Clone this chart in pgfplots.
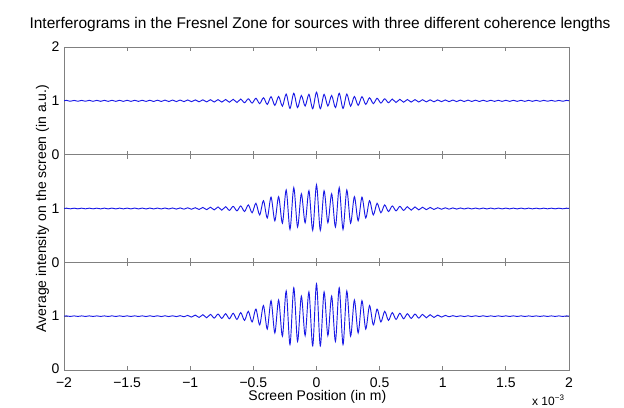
\documentclass[border=0pt]{standalone}
\usepackage{fontspec}
\setmainfont{Liberation Sans}
\usepackage{pgfplots}
\usepackage{pgfplotstable}
\pgfplotsset{compat=1.18}
\definecolor{AxGray}{HTML}{808080}
\definecolor{LineBlue}{HTML}{1A1AE6}

% x in units of 1e-3 m; a = top, b = middle, c = bottom panel
\pgfplotstableread{
x a b c
-2 1 1 1
-1.98 1.008 1.006 1.005
-1.95 0.992 0.994 0.995
-1.92 1.008 1.006 1.005
-1.89 0.992 0.994 0.995
-1.86 1.008 1.006 1.005
-1.83 0.992 0.994 0.995
-1.80 1.009 1.006 1.005
-1.77 0.991 0.994 0.995
-1.74 1.009 1.006 1.005
-1.71 0.991 0.993 0.995
-1.68 1.009 1.007 1.005
-1.65 0.990 0.993 0.994
-1.62 1.010 1.007 1.006
-1.59 0.990 0.993 0.994
-1.56 1.010 1.007 1.006
-1.53 0.990 0.993 0.994
-1.50 1.010 1.007 1.006
-1.47 0.990 0.993 0.994
-1.44 1.010 1.008 1.006
-1.41 0.990 0.992 0.994
-1.38 1.011 1.008 1.006
-1.35 0.989 0.992 0.993
-1.32 1.011 1.008 1.007
-1.29 0.988 0.992 0.993
-1.26 1.012 1.008 1.007
-1.23 0.988 0.992 0.993
-1.20 1.013 1.009 1.007
-1.17 0.987 0.991 0.993
-1.14 1.014 1.010 1.007
-1.11 0.986 0.989 0.992
-1.08 1.015 1.011 1.009
-1.05 0.985 0.988 0.989
-1.02 1.016 1.013 1.014
-0.99 0.984 0.986 0.983
-0.96 1.017 1.015 1.020
-0.93 0.982 0.982 0.976
-0.90 1.019 1.020 1.027
-0.87 0.980 0.978 0.970
-0.84 1.021 1.024 1.033
-0.81 0.978 0.974 0.964
-0.78 1.023 1.029 1.039
-0.75 0.976 0.969 0.958
-0.72 1.025 1.033 1.045
-0.69 0.974 0.965 0.952
-0.66 1.028 1.040 1.054
-0.63 0.970 0.956 0.940
-0.60 1.032 1.048 1.066
-0.57 0.965 0.943 0.922
-0.54 1.038 1.066 1.090
-0.51 0.958 0.921 0.892
-0.48 1.047 1.097 1.132
-0.45 0.948 0.881 0.838
-0.42 1.058 1.145 1.198
-0.39 0.934 0.824 0.760
-0.36 1.077 1.211 1.288
-0.33 0.917 0.771 0.688
-0.30 1.080 1.220 1.300
-0.27 0.901 0.727 0.628
-0.24 1.125 1.343 1.468
-0.21 0.859 0.613 0.472
-0.18 1.141 1.387 1.528
-0.15 0.875 0.657 0.532
-0.12 1.099 1.273 1.372
-0.09 0.904 0.736 0.640
-0.06 1.120 1.330 1.450
-0.03 0.853 0.595 0.448
0 1.160 1.440 1.600
0.03 0.853 0.595 0.448
0.06 1.120 1.330 1.450
0.09 0.904 0.736 0.640
0.12 1.099 1.273 1.372
0.15 0.875 0.657 0.532
0.18 1.141 1.387 1.528
0.21 0.859 0.613 0.472
0.24 1.125 1.343 1.468
0.27 0.901 0.727 0.628
0.30 1.080 1.220 1.300
0.33 0.917 0.771 0.688
0.36 1.077 1.211 1.288
0.39 0.934 0.824 0.760
0.42 1.058 1.145 1.198
0.45 0.948 0.881 0.838
0.48 1.047 1.097 1.132
0.51 0.958 0.921 0.892
0.54 1.038 1.066 1.090
0.57 0.965 0.943 0.922
0.60 1.032 1.048 1.066
0.63 0.970 0.956 0.940
0.66 1.028 1.040 1.054
0.69 0.974 0.965 0.952
0.72 1.025 1.033 1.045
0.75 0.976 0.969 0.958
0.78 1.023 1.029 1.039
0.81 0.978 0.974 0.964
0.84 1.021 1.024 1.033
0.87 0.980 0.978 0.970
0.90 1.019 1.020 1.027
0.93 0.982 0.982 0.976
0.96 1.017 1.015 1.020
0.99 0.984 0.986 0.983
1.02 1.016 1.013 1.014
1.05 0.985 0.988 0.989
1.08 1.015 1.011 1.009
1.11 0.986 0.989 0.992
1.14 1.014 1.010 1.007
1.17 0.987 0.991 0.993
1.20 1.013 1.009 1.007
1.23 0.988 0.992 0.993
1.26 1.012 1.008 1.007
1.29 0.988 0.992 0.993
1.32 1.011 1.008 1.007
1.35 0.989 0.992 0.993
1.38 1.011 1.008 1.006
1.41 0.990 0.992 0.994
1.44 1.010 1.008 1.006
1.47 0.990 0.993 0.994
1.50 1.010 1.007 1.006
1.53 0.990 0.993 0.994
1.56 1.010 1.007 1.006
1.59 0.990 0.993 0.994
1.62 1.010 1.007 1.006
1.65 0.990 0.993 0.994
1.68 1.009 1.007 1.005
1.71 0.991 0.993 0.995
1.74 1.009 1.006 1.005
1.77 0.991 0.994 0.995
1.80 1.009 1.006 1.005
1.83 0.992 0.994 0.995
1.86 1.008 1.006 1.005
1.89 0.992 0.994 0.995
1.92 1.008 1.006 1.005
1.95 0.992 0.994 0.995
1.98 1.008 1.006 1.005
2 1 1 1
}\fringes

\pgfplotsset{panel/.style={
  scale only axis, width=378.75pt, height=80.75pt,
  xmin=-2, xmax=2, ymin=0, ymax=2,
  xtick={-2,-1.5,-1,-0.5,0,0.5,1,1.5,2},
  ytick={0,1,2},
  tick align=inside, major tick length=3pt,
  axis line style={AxGray, line width=0.6pt},
  tick style={AxGray, line width=0.6pt},
  tick label style={font=\fontsize{10.5}{12}\selectfont},
  anchor=south west,
}}

\begin{document}
\begin{tikzpicture}
\path[use as bounding box] (-48pt,-27.75pt) rectangle (420pt,277.5pt);

\begin{axis}[panel, at={(0pt,0pt)},
  xticklabels={−2,−1.5,−1,−0.5,0,0.5,1,1.5,2},
  xticklabel style={yshift=-2pt},
  yticklabels={{\raisebox{2.5pt}{0}},1,{}}]
\addplot[LineBlue, line width=0.7pt, smooth] table[x=x, y=c] {\fringes};
\end{axis}

\begin{axis}[panel, at={(0pt,80.75pt)},
  xticklabels={}, yticklabels={0,1,{}}]
\addplot[LineBlue, line width=0.7pt, smooth] table[x=x, y=b] {\fringes};
\end{axis}

\begin{axis}[panel, at={(0pt,161.5pt)},
  xticklabels={}, yticklabels={0,1,2}]
\addplot[LineBlue, line width=0.7pt, smooth] table[x=x, y=a] {\fringes};
\end{axis}

\node[anchor=base, font=\fontsize{11.6}{13}\selectfont] at (192pt,256pt)
  {Interferograms in the Fresnel Zone for sources with three different coherence lengths};
\node[anchor=base, font=\fontsize{10.5}{12}\selectfont] at (190pt,-22.5pt)
  {Screen Position (in m)};
\node[anchor=base, rotate=90, font=\fontsize{10.5}{12}\selectfont] at (-13.5pt,121.1pt)
  {Average intensity on the screen (in a.u.)};
\node[anchor=base east, font=\fontsize{9}{10}\selectfont] at (379pt,-26.5pt)
  {x 10\textsuperscript{−3}};
\end{tikzpicture}
\end{document}
